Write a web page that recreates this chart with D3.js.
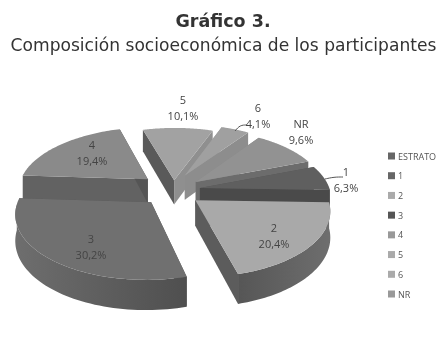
<!doctype html>
<html lang='en'>
  <head>
    <meta charset="utf-8">
    <script src="https://d3js.org/d3.v7.min.js"></script>
    <title>Composición socioeconómica</title>
  <style>
  body { margin: 0; background-color: white; }
  svg { display: block; filter: blur(0.35px); }
  .title { font-family: "DejaVu Sans"; fill: #333; text-anchor: middle; }
  .lab { font-family: "Open Sans"; font-size: 11px; fill: #444; text-anchor: middle; }
  .leg { font-family: "Open Sans"; font-size: 9px; fill: #555; }
  </style>
  </head>
  <body>
    <div id='chart'></div>
    <script>
    // data
    const categories = ['1', '2', '3', '4', '5', '6', 'NR'];
    const shares = [6.3, 20.4, 30.2, 19.4, 10.1, 4.1, 9.6];
    const shareLabels = ['6,3%', '20,4%', '30,2%', '19,4%', '10,1%', '4,1%', '9,6%'];
    const legendItems = ['ESTRATO', '1', '2', '3', '4', '5', '6', 'NR'];

    // looks: top face, start wall, end wall, outer wall (left, right)
    const topFill = ['#5f5f5f', '#a9a9a9', '#707070', '#8a8a8a', '#a2a2a2', '#a0a0a0', '#929292'];
    const startWall = ['#555', '#555', '#555', '#626262', '#5a5a5a', '#999', '#8a8a8a'];
    const endWall = ['#4a4a4a', '#5c5c5c', '#555', '#555', '#8f8f8f', '#8d8d8d', '#6c6c6c'];
    const outerLeft = ['#555', '#565656', '#6e6e6e', '#666', '#666', '#888', '#777'];
    const outerRight = ['#555', '#6e6e6e', '#4f4f4f', '#666', '#666', '#888', '#777'];
    const legendFill = ['#666', '#666', '#aaa', '#555', '#999', '#aaa', '#aaa', '#999'];

    // layout: how far each slice is pulled from the centre, and label spots
    const shiftX = [20, 15, -28, -33, -6, 5, 16];
    const shiftY = [-4, 21, 25, -23, -21, -31, -17];
    const labelX = [346, 274, 91, 92, 183, 258, 301];
    const labelY = [172, 228, 239, 145, 100, 108, 124];

    const width = 448, height = 340;
    const cx = 180, cy = 190, R = 130, depth = 25, tilt = 0.48, camera = 900;
    const rad = Math.PI / 180;

    const svg = d3.select('#chart').append('svg')
      .attr('width', width)
      .attr('height', height);

    svg.append('text').attr('class', 'title')
      .attr('x', 223).attr('y', 27)
      .attr('font-size', 17.5).attr('font-weight', 'bold')
      .text('Gráfico 3.');
    svg.append('text').attr('class', 'title')
      .attr('x', 223.5).attr('y', 50.5)
      .attr('font-size', 17.1)
      .text('Composición socioeconómica de los participantes');

    // angle is clockwise from the back of the disc, z goes up
    function project(X, Y, z) {
      const s = camera / (camera - Y);
      return [cx + X * s, cy + (Y * tilt - z) * s];
    }

    function rim(angle, i, z) {
      return project(shiftX[i] + R * Math.sin(angle), shiftY[i] - R * Math.cos(angle), z);
    }

    function apex(i, z) {
      return project(shiftX[i], shiftY[i], z);
    }

    const line = d3.line();

    const pie = d3.pie().sort(null)
      .startAngle(69 * rad)
      .endAngle(429 * rad);
    const arcs = pie(shares);

    const defs = svg.append('defs');
    categories.forEach((c, i) => {
      const g = defs.append('linearGradient').attr('id', 'wall' + i);
      g.append('stop').attr('offset', 0).attr('stop-color', outerLeft[i]);
      g.append('stop').attr('offset', 1).attr('stop-color', outerRight[i]);
    });

    // back slices first, then the front ones
    const drawOrder = [4, 5, 6, 0, 3, 2, 1];
    const pieG = svg.append('g');

    drawOrder.forEach(i => {
      const a = arcs[i];
      const g = pieG.append('g').attr('class', 'slice');
      const steps = d3.range(0, 61).map(k => a.startAngle + (a.endAngle - a.startAngle) * k / 60);

      // radial walls
      [[a.startAngle, startWall[i]], [a.endAngle, endWall[i]]].forEach(w => {
        g.append('path')
          .attr('d', line([apex(i, 0), rim(w[0], i, 0), rim(w[0], i, -depth), apex(i, -depth)]) + 'Z')
          .attr('fill', w[1]);
      });

      // outer wall, only the part facing us
      const front = steps.filter(t => Math.cos(t) < 0);
      if (front.length > 1) {
        const upper = front.map(t => rim(t, i, 0));
        const lower = front.map(t => rim(t, i, -depth)).reverse();
        g.append('path')
          .attr('d', line(upper.concat(lower)) + 'Z')
          .attr('fill', 'url(#wall' + i + ')');
      }

      // top face
      g.append('path')
        .attr('d', line([apex(i, 0)].concat(steps.map(t => rim(t, i, 0)))) + 'Z')
        .attr('fill', topFill[i]);
    });

    // leader lines for the two small slices
    const leaders = [[[325, 179], [334, 177], [343, 177]], [[235, 131], [240, 125], [247, 125]]];
    leaders.forEach(l => {
      svg.append('path')
        .attr('d', d3.line().curve(d3.curveBasis)(l))
        .attr('fill', 'none')
        .attr('stroke', '#555')
        .attr('stroke-width', 1);
    });

    // data labels
    categories.forEach((c, i) => {
      const t = svg.append('text').attr('class', 'lab');
      t.append('tspan').attr('x', labelX[i]).attr('y', labelY[i] + 4).text(c);
      t.append('tspan').attr('x', labelX[i]).attr('y', labelY[i] + 20).text(shareLabels[i]);
    });

    // legend
    const legendY = d3.scalePoint().domain(legendItems).range([156, 294]);
    const legend = svg.selectAll('.legItem')
      .data(legendItems)
      .enter()
      .append('g')
      .attr('class', 'legItem')
      .attr('transform', d => 'translate(388,' + legendY(d) + ')');
    legend.append('rect')
      .attr('x', 0).attr('y', -3.5)
      .attr('width', 7).attr('height', 7)
      .attr('fill', (d, i) => legendFill[i]);
    legend.append('text').attr('class', 'leg')
      .attr('x', 10).attr('y', 3.5)
      .text(d => d);
    </script>
  </body>
</html>
